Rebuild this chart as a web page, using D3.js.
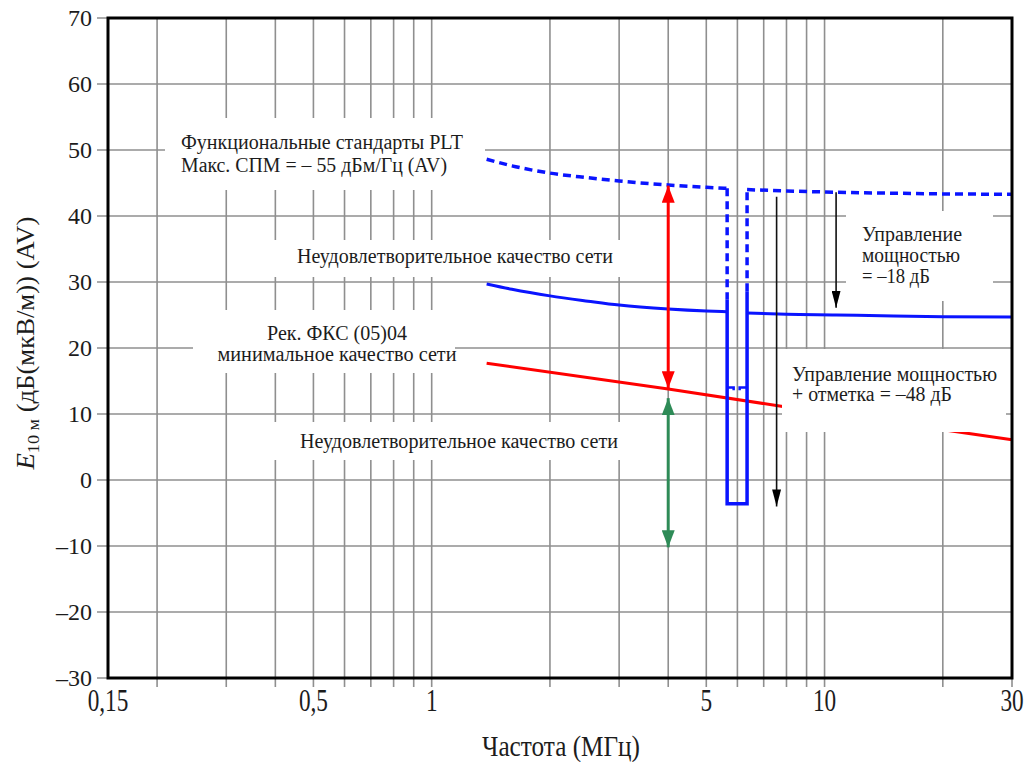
<!DOCTYPE html>
<html><head><meta charset="utf-8">
<script src="https://cdn.jsdelivr.net/npm/d3@7"></script>
<style>
body{margin:0;background:#fff}
svg{display:block}
</style>
</head><body>
<svg id="chart" width="1030" height="762" style="font-family:'Liberation Serif','DejaVu Serif',serif"></svg>
<script>
// ---------- data ----------
const yTicks = [-30,-20,-10,0,10,20,30,40,50,60,70];
const gridFreqs = [0.2,0.3,0.4,0.5,0.6,0.7,0.8,0.9,1,2,3,4,5,6,7,8,9,10,20,30];
const xTickValues = [0.15,0.5,1,5,10,30];
const xTickLabels = ["0,15","0,5","1","5","10","30"];

// PLT functional standard (dashed, max PSD -55 dBm/Hz)
const limitFreqsL  = [1.38,1.6,2,2.5,3,4,5,5.65];
const limitValuesL = [48.6,47.6,46.5,45.8,45.3,44.7,44.35,44.2];
const limitFreqsR  = [6.35,8,10.7,15,20,30];
const limitValuesR = [44.0,43.8,43.6,43.45,43.35,43.3];

// with power control -18 dB (solid blue)
const reducedFreqsL  = [1.38,1.6,2,2.5,3,4,5,5.65];
const reducedValuesL = [29.7,28.9,27.9,27.1,26.5,25.9,25.6,25.5];
const reducedFreqsR  = [6.35,8,10.7,15,20,30];
const reducedValuesR = [25.3,25.1,25.0,24.85,24.75,24.7];

// notch (power control + notching -48 dB)
const notchFreqs = [5.65,6.35];
const notchTopSolid = [27.4,28.6];
const notchBottom = -3.6;
const notchMarkLevel = 14;
const notchMarkFreqs = [5.87,6.08];

// ECC Rec (05)04 minimum network quality (red)
const eccFreqs  = [1.38,4,7.9,30];
const eccValues = [17.7,13.8,11.1,6.1];

// arrows
const redArrow   = {f:4, from:44.6, to:13.9};
const greenArrow = {f:4, from:12.4, to:-10.2};
const blackArrowFreqs = [7.55,10.7];
const blackArrowFrom  = [42.9,43.6];
const blackArrowTo    = [-4.0,26.1];

// texts
const labelPLT   = ["Функциональные стандарты PLT","Макс. СПМ = – 55 дБм/Гц (AV)"];
const labelBad   = "Неудовлетворительное качество сети";
const labelECC   = ["Рек. ФКС (05)04","минимальное качество сети"];
const label18    = ["Управление","мощностью","= –18 дБ"];
const label48    = ["Управление мощностью","+ отметка = –48 дБ"];
const xTitle     = "Частота (МГц)";

// ---------- layout ----------
const FONT = "'Liberation Serif','DejaVu Serif',serif";
const svg = d3.select("#chart");
const L=108, R=1012, T=18, B=678;
const x = d3.scaleLog().domain([0.15,30]).range([L,R]);
const y = d3.scaleLinear().domain([-30,70]).range([B,T]);
const gridColor = "#8f8f8f";
const ink = "#1c1c1c";

const defs = svg.append("defs");
function marker(id,color,w,h){
  defs.append("marker").attr("id",id).attr("viewBox",`0 0 ${h} ${w}`)
    .attr("refX",h).attr("refY",w/2).attr("markerWidth",h).attr("markerHeight",w)
    .attr("markerUnits","userSpaceOnUse").attr("orient","auto-start-reverse")
    .append("path").attr("d",`M0,0 L${h},${w/2} L0,${w} Z`).attr("fill",color);
}
marker("ar","#ff0000",13,17);
marker("ag","#2e8b57",13,17);
marker("ak","#000",9,17);

// grid
const g = svg.append("g");
g.selectAll("line.h").data(yTicks).join("line")
  .attr("x1",L-11).attr("x2",R).attr("y1",d=>y(d)).attr("y2",d=>y(d))
  .attr("stroke",gridColor).attr("stroke-width",1.6);
g.selectAll("line.v").data(gridFreqs).join("line")
  .attr("x1",d=>x(d)).attr("x2",d=>x(d)).attr("y1",T).attr("y2",B+9)
  .attr("stroke",gridColor).attr("stroke-width",1.6);

// curves
const line = d3.line().x(d=>x(d[0])).y(d=>y(d[1]));
const smooth = d3.line().x(d=>x(d[0])).y(d=>y(d[1])).curve(d3.curveMonotoneX);
const zip=(a,b)=>a.map((v,i)=>[v,b[i]]);
const blue="#0a14ff";

svg.append("path").datum(zip(eccFreqs,eccValues)).attr("d",line)
  .attr("fill","none").attr("stroke","#ff0000").attr("stroke-width",3);

const dash="8,5";
svg.append("path").datum(zip(limitFreqsL,limitValuesL)).attr("d",smooth)
  .attr("fill","none").attr("stroke",blue).attr("stroke-width",3.5).attr("stroke-dasharray",dash);
svg.append("path").datum(zip(limitFreqsR,limitValuesR)).attr("d",smooth)
  .attr("fill","none").attr("stroke",blue).attr("stroke-width",3.5).attr("stroke-dasharray",dash);
svg.append("path").datum([[notchFreqs[0],limitValuesL[limitValuesL.length-1]],[notchFreqs[0],notchTopSolid[0]]]).attr("d",line)
  .attr("fill","none").attr("stroke",blue).attr("stroke-width",3.5).attr("stroke-dasharray",dash);
svg.append("path").datum([[notchFreqs[1],notchTopSolid[1]],[notchFreqs[1],limitValuesR[0]]]).attr("d",line)
  .attr("fill","none").attr("stroke",blue).attr("stroke-width",3.5).attr("stroke-dasharray",dash);

svg.append("path").datum(zip(reducedFreqsL,reducedValuesL)).attr("d",smooth)
  .attr("fill","none").attr("stroke",blue).attr("stroke-width",3);
svg.append("path").datum(zip(reducedFreqsR,reducedValuesR)).attr("d",smooth)
  .attr("fill","none").attr("stroke",blue).attr("stroke-width",3);
svg.append("path").datum([[notchFreqs[0],notchTopSolid[0]],[notchFreqs[0],notchBottom],[notchFreqs[1],notchBottom],[notchFreqs[1],notchTopSolid[1]]])
  .attr("d",line).attr("fill","none").attr("stroke",blue).attr("stroke-width",3.5);
svg.append("path").datum([[notchFreqs[0],notchMarkLevel],[notchMarkFreqs[0],notchMarkLevel],[notchMarkFreqs[0],notchMarkLevel-0.4]])
  .attr("d",line).attr("fill","none").attr("stroke",blue).attr("stroke-width",2.5);
svg.append("path").datum([[notchFreqs[1],notchMarkLevel],[notchMarkFreqs[1],notchMarkLevel],[notchMarkFreqs[1],notchMarkLevel-0.4]])
  .attr("d",line).attr("fill","none").attr("stroke",blue).attr("stroke-width",2.5);

// white label boxes
const boxes = [[165,118,485,190],[270,240,630,277],[193,310,455,373],[270,422,630,460],[846,211,993,301],[782,349,1006,432]];
svg.selectAll("rect.box").data(boxes).join("rect")
  .attr("x",d=>d[0]).attr("y",d=>d[1]).attr("width",d=>d[2]-d[0]).attr("height",d=>d[3]-d[1])
  .attr("fill","#fff");

// annotation text
function txt(str,xx,yy,len,anchor){
  svg.append("text").attr("x",xx).attr("y",yy).attr("font-size",20).attr("font-family",FONT).attr("fill",ink)
    .attr("text-anchor",anchor||"start").attr("textLength",len).attr("lengthAdjust","spacingAndGlyphs").text(str);
}
txt(labelPLT[0],181,149,282); txt(labelPLT[1],181,172,266);
txt(labelBad,297,263,316);
txt(labelECC[0],337,340,140,"middle"); txt(labelECC[1],337,361,239,"middle");
txt(labelBad,300,448,318);
txt(label18[0],862,241,100); txt(label18[1],862,262,98); txt(label18[2],862,283,68);
txt(label48[0],792,381,205); txt(label48[1],792,401,160);

// arrows
svg.append("line").attr("x1",x(redArrow.f)).attr("x2",x(redArrow.f)).attr("y1",y(redArrow.from)).attr("y2",y(redArrow.to))
  .attr("stroke","#ff0000").attr("stroke-width",3).attr("marker-start","url(#ar)").attr("marker-end","url(#ar)");
svg.append("line").attr("x1",x(greenArrow.f)).attr("x2",x(greenArrow.f)).attr("y1",y(greenArrow.from)).attr("y2",y(greenArrow.to))
  .attr("stroke","#2e8b57").attr("stroke-width",3).attr("marker-start","url(#ag)").attr("marker-end","url(#ag)");
svg.selectAll("line.ka").data(blackArrowFreqs).join("line")
  .attr("x1",d=>x(d)).attr("x2",d=>x(d)).attr("y1",(d,i)=>y(blackArrowFrom[i])).attr("y2",(d,i)=>y(blackArrowTo[i]))
  .attr("stroke","#111").attr("stroke-width",1.6).attr("marker-end","url(#ak)");

// frame
svg.append("rect").attr("x",L).attr("y",T).attr("width",R-L).attr("height",B-T)
  .attr("fill","none").attr("stroke","#000").attr("stroke-width",3);

// y tick labels
svg.selectAll("text.yt").data(yTicks).join("text")
  .attr("font-family",FONT).attr("fill",ink)
  .attr("x",92).attr("y",d=>y(d)).attr("dy","0.34em").attr("text-anchor","end").attr("font-size",24)
  .text(d=>d<0?"–"+Math.abs(d):String(d));

// x tick labels
svg.selectAll("text.xt").data(xTickValues).join("text")
  .attr("font-family",FONT).attr("fill",ink)
  .attr("transform",d=>`translate(${x(d)},711) scale(0.75,1)`)
  .attr("text-anchor","middle").attr("font-size",31)
  .text((d,i)=>xTickLabels[i]);

// x title
svg.append("text").attr("font-family",FONT).attr("fill",ink)
  .attr("x",561).attr("y",756).attr("text-anchor","middle").attr("font-size",30)
  .attr("textLength",158).attr("lengthAdjust","spacingAndGlyphs").text(xTitle);

// y title
const yt = svg.append("text").attr("font-family",FONT).attr("fill",ink)
  .attr("transform","translate(34,343) rotate(-90)")
  .attr("text-anchor","middle").attr("font-size",25).attr("textLength",253).attr("lengthAdjust","spacingAndGlyphs");
yt.append("tspan").attr("font-style","italic").text("E");
yt.append("tspan").attr("font-size",17).attr("dy",5).text("10 м");
yt.append("tspan").attr("dy",-5).text(" (дБ(мкВ/м)) (AV)");
</script>
</body></html>
